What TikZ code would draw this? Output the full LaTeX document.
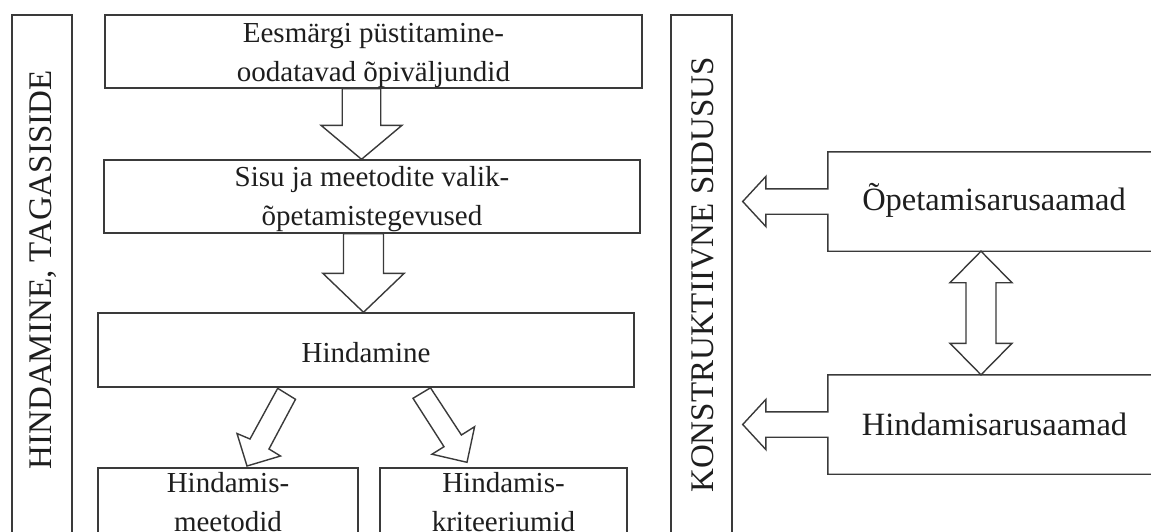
\documentclass[tikz,border=0pt]{standalone}
\usepackage{fontspec}
\setmainfont{Liberation Serif}
\usetikzlibrary{calc}
\definecolor{lc}{HTML}{3A3A3A}
\definecolor{tc}{HTML}{1E1E1E}
\newcommand{\fatdown}[5]{%
  \draw[fat] ($(#1)+(-#3,0)$) -- ($(#2)+(-#3,-#5)$) -- ($(#2)+(-#4,-#5)$) -- (#2)
    -- ($(#2)+(#4,-#5)$) -- ($(#2)+(#3,-#5)$) -- ($(#1)+(#3,0)$) -- cycle;}
\newcommand{\fatboth}[5]{%
  \draw[fat] (#1) -- ($(#1)+(#4,#5)$) -- ($(#1)+(#3,#5)$) -- ($(#2)+(#3,-#5)$)
    -- ($(#2)+(#4,-#5)$) -- (#2) -- ($(#2)+(-#4,-#5)$) -- ($(#2)+(-#3,-#5)$)
    -- ($(#1)+(-#3,#5)$) -- ($(#1)+(-#4,#5)$) -- cycle;}
\newcommand{\sidearrowbox}[2]{%
  \draw[ln] ($(#1.north east)+(20,0)$) -- (#1.north west) -- ($(#1.west)+(0,-12.7)$)
    -- ($(#1.west)+(-62,-12.7)$) -- ($(#1.west)+(-62,-25)$) -- (#2)
    -- ($(#1.west)+(-62,25)$) -- ($(#1.west)+(-62,12.7)$) -- ($(#1.west)+(0,12.7)$)
    -- (#1.south west) -- ($(#1.south east)+(20,0)$);}
\begin{document}
\begin{tikzpicture}[x=1pt,y=-1pt,
  ln/.style={draw=lc, line width=1.4pt, line join=miter},
  box/.style={ln, inner sep=0pt},
  area/.style={inner sep=0pt},
  fat/.style={ln, fill=white},
  flowtxt/.style={font=\fontsize{29}{39}\selectfont, text=tc, anchor=base, inner sep=0pt},
  sidetxt/.style={font=\fontsize{32.5}{39}\selectfont, text=tc, anchor=base, inner sep=0pt},
  vtxt/.style={font=\fontsize{33}{40}\selectfont, text=tc, rotate=90, anchor=base, inner sep=0pt},
]
\path[use as bounding box] (0,0) rectangle (1151,531);
\clip (0,0) rectangle (1151,531);

% tall side boxes
\node[box, minimum width=60, minimum height=585] (hs) at (42,307.5) {};
\node[vtxt] (hst) at (51.7,270) {HINDAMINE, TAGASISIDE};
\node[box, minimum width=61, minimum height=585] (ks) at (701.5,307.5) {};
\node[vtxt] (kst) at (713,275) {KONSTRUKTIIVNE SIDUSUS};

% flow boxes
\node[box, minimum width=537, minimum height=73] (b1) at (373.5,51.5) {};
\node[flowtxt] (b1a) at ($(b1.center)+(0,-9.5)$) {Eesmärgi püstitamine-};
\node[flowtxt] (b1b) at ($(b1.center)+(0,29.5)$) {oodatavad õpiväljundid};

\node[box, minimum width=536, minimum height=73] (b2) at (372,196.5) {};
\node[flowtxt] (b2a) at ($(b2.center)+(0,-10.5)$) {Sisu ja meetodite valik-};
\node[flowtxt] (b2b) at ($(b2.center)+(0,28.5)$) {õpetamistegevused};

\node[box, minimum width=536, minimum height=74] (b3) at (366,350) {};
\node[flowtxt] (b3a) at ($(b3.center)+(0,12)$) {Hindamine};

\node[box, minimum width=260, minimum height=132] (b4) at (228,534) {};
\node[flowtxt] (b4a) at (228,492.7) {Hindamis-};
\node[flowtxt] (b4b) at (228,531.5) {meetodid};

\node[box, minimum width=247, minimum height=132] (b5) at (503.5,534) {};
\node[flowtxt] (b5a) at (503.5,492.7) {Hindamis-};
\node[flowtxt] (b5b) at (503.5,531.5) {kriteeriumid};

% right boxes (outlines drawn with their arrows)
\node[area, minimum width=337, minimum height=99] (op) at (996.5,201.5) {};
\node[sidetxt] (opt) at (994,210.6) {Õpetamisarusaamad};
\node[area, minimum width=337, minimum height=99] (hi) at (996.5,424.5) {};
\node[sidetxt] (hit) at (994.5,435) {Hindamisarusaamad};

% block arrows in the flow
\coordinate (aAt) at ($(b1.south)+(-12,0)$);
\coordinate (aAb) at ($(b2.north)+(-10.5,0)$);
\fatdown{aAt}{aAb}{19.25}{40.5}{34}
\coordinate (aBt) at ($(b2.south)+(-8.5,0)$);
\coordinate (aBb) at ($(b3.north)+(-2.5,0)$);
\fatdown{aBt}{aBb}{20}{40.7}{39}

% diagonal arrows from Hindamine
\draw[fat] (277.7,388.3) -- (250,439) -- (237,433.5) -- (247,466) -- (280.5,456)
  -- (269,449) -- (295.5,399.3) -- cycle;
\draw[fat] (413,398.3) -- (444,446.7) -- (432,454.2) -- (467,462.3) -- (474.6,426.7)
  -- (461.4,435) -- (430.5,387.8) -- cycle;

% side arrows to the coherence bar
\coordinate (tC) at ($(ks.east |- op.west)+(10,0)$);
\coordinate (tD) at ($(ks.east |- hi.west)+(10,0)$);
\sidearrowbox{op}{tC}
\sidearrowbox{hi}{tD}

% double arrow between the two conceptions
\coordinate (dT) at ($(op.south)+(-15.5,0)$);
\coordinate (dB) at ($(hi.north)+(-15.5,0)$);
\fatboth{dT}{dB}{15}{31}{31.5}
\end{tikzpicture}
\end{document}
